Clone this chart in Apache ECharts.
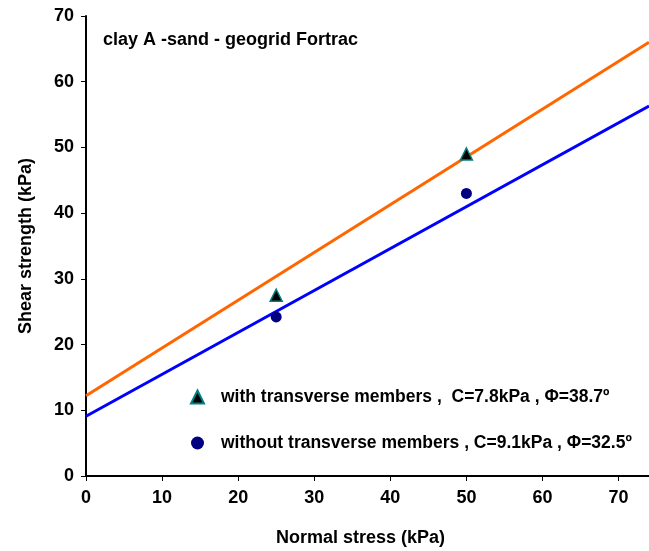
<!DOCTYPE html>
<html>
<head>
<meta charset="utf-8">
<script src="https://cdn.jsdelivr.net/npm/echarts@6/dist/echarts.min.js"></script>
<style>html,body{margin:0;padding:0;background:#fff;}#c{width:649px;height:551px;}</style>
</head>
<body>
<div id="c"></div>
<script>
const withMembers = [[25, 27.5], [50, 49]];
const withoutMembers = [[25, 24.2], [50, 43]];
const fitWith = [[0, 12.2], [74, 66]];
const fitWithout = [[0, 9.1], [74, 56.3]];
const nameWith = 'with transverse members ,  C=7.8kPa , Φ=38.7º';
const nameWithout = 'without transverse members , C=9.1kPa , Φ=32.5º';
const titleText = 'clay A -sand - geogrid Fortrac';
const FF = '"Liberation Sans", Arial, sans-serif';

const chart = echarts.init(document.getElementById('c'), null, {renderer: 'canvas'});
chart.setOption({
  animation: false,
  backgroundColor: '#fff',
  title: {text: titleText, left: 103, top: 31, padding: 0, textStyle: {fontFamily: FF, fontSize: 18, fontWeight: 'bold', color: '#000'}},
  grid: {left: 86, right: 0, top: 16, bottom: 75, containLabel: false, outerBoundsMode: 'none'},
  legend: {
    orient: 'vertical', left: 190, top: 387, padding: 0, itemGap: 26, itemWidth: 13, itemHeight: 13,
    textStyle: {fontFamily: FF, fontSize: 17.5, fontWeight: 'bold', color: '#000', lineHeight: 20, padding: [0, 0, 0, 12]},
    data: [{name: nameWith, icon: 'triangle'}, {name: nameWithout, icon: 'circle'}]
  },
  xAxis: [{
    type: 'value', min: 0, max: 74, interval: 10,
    name: 'Normal stress (kPa)', nameLocation: 'middle', nameGap: 53,
    nameTextStyle: {fontFamily: FF, fontSize: 18, fontWeight: 'bold', color: '#000', padding: [0, 14, 0, 0]},
    axisLine: {show: true, onZero: false, lineStyle: {color: '#000', width: 2}},
    axisTick: {show: true, length: 5, lineStyle: {color: '#000', width: 1}},
    axisLabel: {fontFamily: FF, fontSize: 18, fontWeight: 'bold', color: '#000', margin: 13, showMaxLabel: false},
    splitLine: {show: false}
  }, {
    type: 'value', position: 'top', min: 0, max: 74,
    axisLine: {show: true, lineStyle: {color: '#000', width: 2}},
    axisTick: {show: false}, axisLabel: {show: false}, splitLine: {show: false}
  }],
  yAxis: {
    type: 'value', min: 0, max: 70, interval: 10,
    name: 'Shear strength (kPa)', nameLocation: 'middle', nameGap: 51,
    nameTextStyle: {fontFamily: FF, fontSize: 18, fontWeight: 'bold', color: '#000'},
    axisLine: {show: true, onZero: false, lineStyle: {color: '#000', width: 2}},
    axisTick: {show: true, length: 5, lineStyle: {color: '#000', width: 1}},
    axisLabel: {fontFamily: FF, fontSize: 18, fontWeight: 'bold', color: '#000', margin: 12},
    splitLine: {show: false}
  },
  series: [
    {type: 'line', data: fitWith, symbol: 'none', lineStyle: {color: '#FF6600', width: 3}, silent: true, z: 1},
    {type: 'line', data: fitWithout, symbol: 'none', lineStyle: {color: '#0000FF', width: 3}, silent: true, z: 1},
    {name: nameWith, type: 'scatter', data: withMembers, symbol: 'triangle', symbolSize: 12,
     itemStyle: {color: '#000000', borderColor: '#008080', borderWidth: 1.5, opacity: 1}, z: 3},
    {name: nameWithout, type: 'scatter', data: withoutMembers, symbol: 'circle', symbolSize: 11,
     itemStyle: {color: '#000080', opacity: 1}, z: 3}
  ]
});
</script>
</body>
</html>
